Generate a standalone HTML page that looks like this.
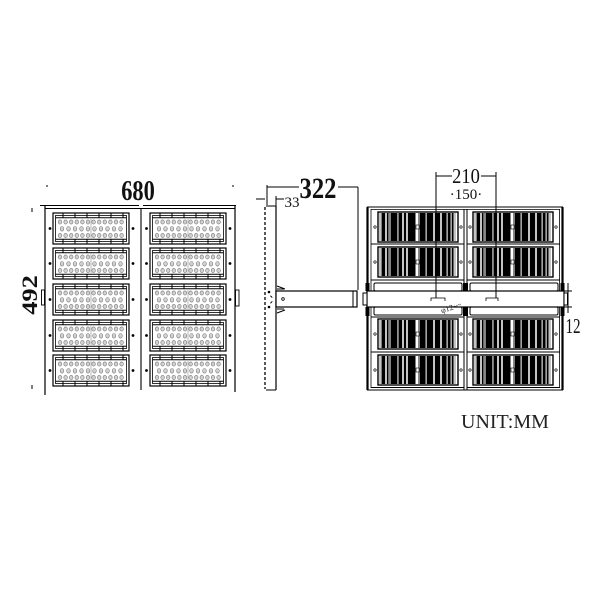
<!DOCTYPE html>
<html><head><meta charset="utf-8"><style>
html,body{margin:0;padding:0;background:#fff;width:600px;height:600px;overflow:hidden}
svg{display:block}
text{font-family:"Liberation Serif",serif;fill:#111}
</style></head><body>
<svg width="600" height="600" viewBox="0 0 600 600" xmlns="http://www.w3.org/2000/svg">
<defs>
<g id="fp">
<rect x="0" y="0" width="76" height="31" fill="#fff" stroke="#000" stroke-width="1.2"/>
<rect x="2.5" y="2.5" width="71" height="26" fill="none" stroke="#000" stroke-width="0.8"/>
<line x1="2.5" y1="4.8" x2="73.5" y2="4.8" stroke="#000" stroke-width="1"/>
<line x1="2.5" y1="26.2" x2="73.5" y2="26.2" stroke="#000" stroke-width="1"/>
<g stroke="#000" stroke-width="1">
<line x1="10" y1="0" x2="10" y2="5"/><line x1="22" y1="0" x2="22" y2="5"/><line x1="34" y1="0" x2="34" y2="5"/><line x1="46" y1="0" x2="46" y2="5"/><line x1="58" y1="0" x2="58" y2="5"/><line x1="70" y1="0" x2="70" y2="5"/>
<line x1="10" y1="26" x2="10" y2="31"/><line x1="22" y1="26" x2="22" y2="31"/><line x1="34" y1="26" x2="34" y2="31"/><line x1="46" y1="26" x2="46" y2="31"/><line x1="58" y1="26" x2="58" y2="31"/><line x1="70" y1="26" x2="70" y2="31"/>
</g>
<line x1="38" y1="6" x2="38" y2="25" stroke="#888" stroke-width="0.6"/>
<g fill="#d2d2d2" stroke="#777" stroke-width="0.6">
<ellipse cx="7" cy="9" rx="1.8" ry="2.1"/><ellipse cx="12.6" cy="9" rx="1.8" ry="2.1"/><ellipse cx="18.2" cy="9" rx="1.8" ry="2.1"/><ellipse cx="23.8" cy="9" rx="1.8" ry="2.1"/><ellipse cx="29.4" cy="9" rx="1.8" ry="2.1"/><ellipse cx="35" cy="9" rx="1.8" ry="2.1"/><ellipse cx="40.6" cy="9" rx="1.8" ry="2.1"/><ellipse cx="46.2" cy="9" rx="1.8" ry="2.1"/><ellipse cx="51.8" cy="9" rx="1.8" ry="2.1"/><ellipse cx="57.4" cy="9" rx="1.8" ry="2.1"/><ellipse cx="63" cy="9" rx="1.8" ry="2.1"/><ellipse cx="68.6" cy="9" rx="1.8" ry="2.1"/>
<ellipse cx="9" cy="15.8" rx="1.8" ry="2.3"/><ellipse cx="15.5" cy="15.8" rx="1.8" ry="2.3"/><ellipse cx="22" cy="15.8" rx="1.8" ry="2.3"/><ellipse cx="28.5" cy="15.8" rx="1.8" ry="2.3"/><ellipse cx="35" cy="15.8" rx="1.8" ry="2.3"/><ellipse cx="41.5" cy="15.8" rx="1.8" ry="2.3"/><ellipse cx="48" cy="15.8" rx="1.8" ry="2.3"/><ellipse cx="54.5" cy="15.8" rx="1.8" ry="2.3"/><ellipse cx="61" cy="15.8" rx="1.8" ry="2.3"/><ellipse cx="67.5" cy="15.8" rx="1.8" ry="2.3"/>
<ellipse cx="7" cy="22.5" rx="1.8" ry="2.1"/><ellipse cx="12.6" cy="22.5" rx="1.8" ry="2.1"/><ellipse cx="18.2" cy="22.5" rx="1.8" ry="2.1"/><ellipse cx="23.8" cy="22.5" rx="1.8" ry="2.1"/><ellipse cx="29.4" cy="22.5" rx="1.8" ry="2.1"/><ellipse cx="35" cy="22.5" rx="1.8" ry="2.1"/><ellipse cx="40.6" cy="22.5" rx="1.8" ry="2.1"/><ellipse cx="46.2" cy="22.5" rx="1.8" ry="2.1"/><ellipse cx="51.8" cy="22.5" rx="1.8" ry="2.1"/><ellipse cx="57.4" cy="22.5" rx="1.8" ry="2.1"/><ellipse cx="63" cy="22.5" rx="1.8" ry="2.1"/><ellipse cx="68.6" cy="22.5" rx="1.8" ry="2.1"/>
</g>
</g>
<g id="bp">
<rect x="0" y="0" width="80" height="30" fill="#fff" stroke="#000" stroke-width="1.4"/>
<g fill="#000">
<rect x="3.5" y="1" width="3.5" height="28"/><rect x="9" y="1" width="1.6" height="28"/><rect x="12.5" y="1" width="6.5" height="28"/><rect x="20.5" y="1" width="3.5" height="28"/><rect x="26" y="1" width="2" height="28"/><rect x="30" y="1" width="7.5" height="28"/><rect x="41.5" y="1" width="6" height="28"/><rect x="49" y="1" width="6" height="28"/><rect x="57" y="1" width="5" height="28"/><rect x="64" y="1" width="4.5" height="28"/><rect x="70" y="1" width="2.5" height="28"/><rect x="74" y="1" width="1.6" height="28"/>
</g>
<g stroke="#555" stroke-width="0.7">
<line x1="2" y1="1" x2="2" y2="29"/><line x1="8" y1="1" x2="8" y2="29"/><line x1="11.5" y1="1" x2="11.5" y2="29"/><line x1="19.7" y1="1" x2="19.7" y2="29"/><line x1="25" y1="1" x2="25" y2="29"/><line x1="29" y1="1" x2="29" y2="29"/><line x1="40.5" y1="1" x2="40.5" y2="29"/><line x1="48.2" y1="1" x2="48.2" y2="29"/><line x1="56" y1="1" x2="56" y2="29"/><line x1="63" y1="1" x2="63" y2="29"/><line x1="69.2" y1="1" x2="69.2" y2="29"/><line x1="73.2" y1="1" x2="73.2" y2="29"/><line x1="77" y1="1" x2="77" y2="29"/>
</g>
<rect x="38" y="13" width="3" height="4" fill="#fff" stroke="#000" stroke-width="0.6"/>
</g>
</defs>

<!-- ===== FRONT VIEW ===== -->
<g stroke="#000" fill="none">
<line x1="46" y1="186" x2="48" y2="186" stroke-width="1"/>
<line x1="232" y1="186" x2="234" y2="186" stroke-width="1"/>
<line x1="40" y1="205.5" x2="139" y2="205.5" stroke-width="1"/>
<line x1="143" y1="205.5" x2="236" y2="205.5" stroke-width="1"/>
<line x1="45" y1="208.5" x2="235" y2="208.5" stroke-width="1"/>
<line x1="45" y1="205" x2="45" y2="395" stroke-width="1.2"/>
<line x1="235" y1="205" x2="235" y2="392" stroke-width="1.2"/>
<line x1="141" y1="208" x2="141" y2="390" stroke-width="1.1"/>
<line x1="32" y1="208" x2="32" y2="212" stroke-width="1"/>
<line x1="32" y1="385" x2="32" y2="389" stroke-width="1"/>
<rect x="41.5" y="290" width="3" height="15" stroke-width="0.9"/>
<rect x="235.5" y="290" width="3.5" height="16" stroke-width="0.9"/>
</g>
<use href="#fp" x="53" y="213"/><use href="#fp" x="53" y="248"/><use href="#fp" x="53" y="284"/><use href="#fp" x="53" y="320"/><use href="#fp" x="53" y="355"/>
<use href="#fp" x="150" y="213"/><use href="#fp" x="150" y="248"/><use href="#fp" x="150" y="284"/><use href="#fp" x="150" y="320"/><use href="#fp" x="150" y="355"/>
<g fill="#000">
<circle cx="50" cy="228.5" r="1.4"/><circle cx="133" cy="228.5" r="1.4"/><circle cx="146.5" cy="228.5" r="1.4"/><circle cx="230" cy="228.5" r="1.4"/>
<circle cx="50" cy="263.5" r="1.4"/><circle cx="133" cy="263.5" r="1.4"/><circle cx="146.5" cy="263.5" r="1.4"/><circle cx="230" cy="263.5" r="1.4"/>
<circle cx="50" cy="299.5" r="1.4"/><circle cx="133" cy="299.5" r="1.4"/><circle cx="146.5" cy="299.5" r="1.4"/><circle cx="230" cy="299.5" r="1.4"/>
<circle cx="50" cy="335.5" r="1.4"/><circle cx="133" cy="335.5" r="1.4"/><circle cx="146.5" cy="335.5" r="1.4"/><circle cx="230" cy="335.5" r="1.4"/>
<circle cx="50" cy="370.5" r="1.4"/><circle cx="133" cy="370.5" r="1.4"/><circle cx="146.5" cy="370.5" r="1.4"/><circle cx="230" cy="370.5" r="1.4"/>
</g>
<text transform="translate(138,200) scale(0.8,1)" text-anchor="middle" font-size="28" font-weight="bold">680</text>
<text transform="translate(37,295) rotate(-90) scale(1.2,1)" text-anchor="middle" font-size="22" font-weight="bold">492</text>

<!-- ===== SIDE VIEW ===== -->
<g stroke="#000" fill="none">
<line x1="276" y1="206" x2="276" y2="390" stroke-width="1.2"/>
<line x1="266" y1="206" x2="276" y2="206" stroke-width="1"/>
<line x1="266" y1="390" x2="276" y2="390" stroke-width="1"/>
<line x1="265" y1="207" x2="265" y2="389" stroke-width="1.3" stroke-dasharray="3,2"/>
<line x1="267" y1="185" x2="267" y2="205" stroke-width="1"/>
<line x1="267" y1="187" x2="299" y2="187" stroke-width="1"/>
<line x1="338" y1="187" x2="358" y2="187" stroke-width="1"/>
<line x1="358" y1="187" x2="358" y2="290" stroke-width="1"/>
<line x1="256" y1="199" x2="265" y2="199" stroke-width="1"/>
<line x1="276" y1="199" x2="284" y2="199" stroke-width="1"/>
<line x1="276" y1="196" x2="276" y2="206" stroke-width="1"/>
<rect x="276" y="291" width="81" height="16" stroke-width="1.2" fill="#fff"/>
<line x1="353" y1="291" x2="353" y2="307" stroke-width="1"/>
<path d="M277 286 L285 289 M277 289 L284 289" stroke-width="1"/>
<path d="M277 313 L285 310 M277 309 L284 309" stroke-width="1"/>
<circle cx="283" cy="299" r="1.3" stroke-width="0.8"/>
<path d="M270 296 q2 0 2 2 M270 303 q2 0 2 -2" stroke-width="0.8"/>
</g>
<circle cx="269" cy="292" r="1.3" fill="#000"/><circle cx="269" cy="307" r="1.3" fill="#000"/>
<text transform="translate(318,198) scale(0.82,1)" text-anchor="middle" font-size="30" font-weight="bold">322</text>
<text x="292" y="207" text-anchor="middle" font-size="15">33</text>

<!-- ===== BACK VIEW ===== -->
<g stroke="#000" fill="none">
<line x1="367" y1="207" x2="563" y2="207" stroke-width="1.1"/>
<line x1="371" y1="209.5" x2="560" y2="209.5" stroke-width="0.8"/>
<line x1="367.5" y1="207" x2="367.5" y2="390" stroke-width="2.2"/>
<line x1="371" y1="209" x2="371" y2="388" stroke-width="0.8"/>
<line x1="562.5" y1="207" x2="562.5" y2="390" stroke-width="2.2"/>
<line x1="559.5" y1="209" x2="559.5" y2="388" stroke-width="0.8"/>
<line x1="464" y1="209" x2="464" y2="390" stroke-width="1"/>
<line x1="467" y1="209" x2="467" y2="390" stroke-width="1"/>
<line x1="367" y1="390" x2="563" y2="390" stroke-width="1"/>
<line x1="371" y1="244" x2="464" y2="244" stroke-width="1"/><line x1="467" y1="244" x2="560" y2="244" stroke-width="1"/>
<line x1="371" y1="280" x2="464" y2="280" stroke-width="1"/><line x1="467" y1="280" x2="560" y2="280" stroke-width="1"/>
<line x1="371" y1="317" x2="464" y2="317" stroke-width="1"/><line x1="467" y1="317" x2="560" y2="317" stroke-width="1"/>
<line x1="371" y1="352" x2="464" y2="352" stroke-width="1"/><line x1="467" y1="352" x2="560" y2="352" stroke-width="1"/>
<line x1="371" y1="387.5" x2="464" y2="387.5" stroke-width="1"/><line x1="467" y1="387.5" x2="560" y2="387.5" stroke-width="1"/>
<rect x="374" y="283" width="88" height="8" rx="1.5" stroke-width="1"/>
<rect x="470" y="283" width="88" height="8" rx="1.5" stroke-width="1"/>
<rect x="374" y="307" width="88" height="8" rx="1.5" stroke-width="1"/>
<rect x="470" y="307" width="88" height="8" rx="1.5" stroke-width="1"/>
</g>
<use href="#bp" x="378" y="212"/><use href="#bp" x="378" y="247"/><use href="#bp" x="378" y="319"/><use href="#bp" x="378" y="355"/>
<use href="#bp" x="473" y="212"/><use href="#bp" x="473" y="247"/><use href="#bp" x="473" y="319"/><use href="#bp" x="473" y="355"/>
<g fill="none" stroke="#000" stroke-width="0.7">
<circle cx="375" cy="227" r="1.2"/><circle cx="461" cy="227" r="1.2"/><circle cx="470" cy="227" r="1.2"/><circle cx="556" cy="227" r="1.2"/>
<circle cx="375" cy="262" r="1.2"/><circle cx="461" cy="262" r="1.2"/><circle cx="470" cy="262" r="1.2"/><circle cx="556" cy="262" r="1.2"/>
<circle cx="375" cy="334" r="1.2"/><circle cx="461" cy="334" r="1.2"/><circle cx="470" cy="334" r="1.2"/><circle cx="556" cy="334" r="1.2"/>
<circle cx="375" cy="370" r="1.2"/><circle cx="461" cy="370" r="1.2"/><circle cx="470" cy="370" r="1.2"/><circle cx="556" cy="370" r="1.2"/>
</g>
<g fill="#000">
<rect x="365.5" y="283" width="4" height="8"/><rect x="365.5" y="307" width="4" height="9"/>
<rect x="463" y="283" width="5" height="8"/><rect x="463" y="307" width="5" height="9"/>
<rect x="560.5" y="283" width="4" height="8"/><rect x="560.5" y="307" width="4" height="9"/>
</g>
<rect x="367" y="291" width="197" height="16" fill="#fff" stroke="#000" stroke-width="1.2"/>
<rect x="363" y="293" width="4" height="12" fill="#fff" stroke="#000" stroke-width="1"/>
<rect x="564" y="293" width="3.5" height="12" fill="#fff" stroke="#000" stroke-width="1"/>
<g stroke="#000" fill="none" stroke-width="1">
<line x1="436" y1="172" x2="436" y2="298"/>
<line x1="496" y1="172" x2="496" y2="298"/>
<line x1="436" y1="176" x2="452" y2="176"/>
<line x1="481" y1="176" x2="496" y2="176"/>
<path d="M431 301 v-3 h14 v3" stroke-width="0.8"/>
<path d="M486 301 v-3 h12 v3" stroke-width="0.8"/>
<line x1="568" y1="283" x2="568" y2="313"/>
<line x1="563" y1="291" x2="572" y2="291"/>
<line x1="563" y1="307" x2="572" y2="307"/>
</g>
<text transform="translate(466,183) scale(0.88,1)" text-anchor="middle" font-size="21">210</text>
<text x="466" y="199" text-anchor="middle" font-size="15">·150·</text>
<text transform="translate(452,310) rotate(-18)" text-anchor="middle" font-size="8">φ12~~</text>
<text transform="translate(573,333) scale(0.72,1)" text-anchor="middle" font-size="21">12</text>
<text x="461" y="428" font-size="20" style="fill:#222">UNIT:MM</text>
</svg>
</body></html>
